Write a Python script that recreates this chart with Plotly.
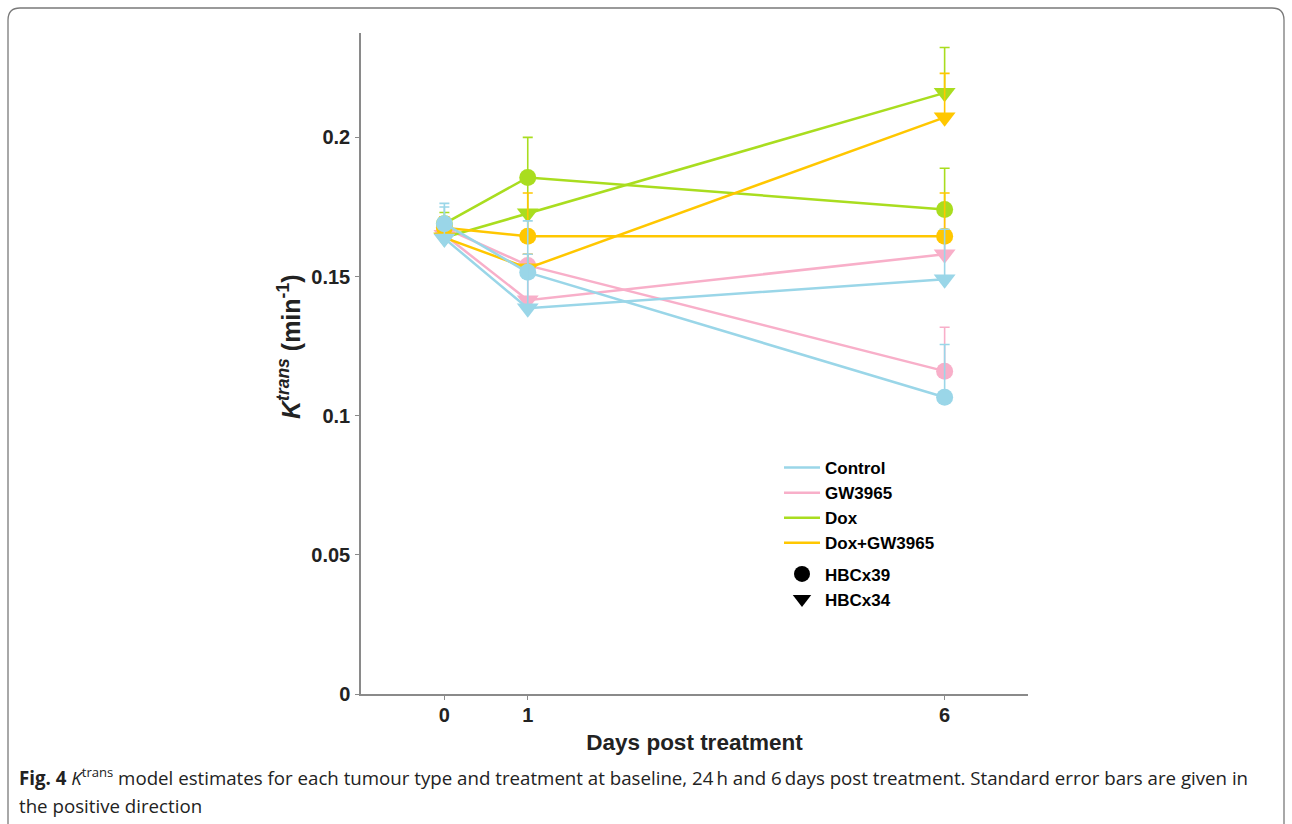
import plotly.graph_objects as go

# ---------------- data ----------------
days = [0, 1, 6]
tick_days = [0, 1, 6]
y_ticks = [0, 0.05, 0.1, 0.15, 0.2]
y_tick_labels = ["0", "0.05", "0.1", "0.15", "0.2"]

treatments = ["Control", "GW3965", "Dox", "Dox+GW3965"]
tumours = ["HBCx39", "HBCx34"]

control_hbcx39 = [0.169, 0.1515, 0.1066]
control_hbcx39_err = [0.0073, 0.0185, 0.019]
control_hbcx34 = [0.1637, 0.1386, 0.149]
control_hbcx34_err = [0.0113, 0.0194, 0.018]

gw_hbcx39 = [0.1675, 0.154, 0.116]
gw_hbcx39_err = [0.004, 0.004, 0.0158]
gw_hbcx34 = [0.165, 0.1415, 0.158]
gw_hbcx34_err = [0.004, 0.010, 0.017]

dox_hbcx39 = [0.169, 0.1856, 0.1741]
dox_hbcx39_err = [0.004, 0.0144, 0.0148]
dox_hbcx34 = [0.164, 0.1727, 0.216]
dox_hbcx34_err = [0.004, 0.013, 0.0163]

doxgw_hbcx39 = [0.1675, 0.1645, 0.1645]
doxgw_hbcx39_err = [0.004, 0.0155, 0.0155]
doxgw_hbcx34 = [0.164, 0.153, 0.2072]
doxgw_hbcx34_err = [0.004, 0.005, 0.0158]

colors = {
    "Control": "#9AD6E8",
    "GW3965": "#F8AFC9",
    "Dox": "#A9DD1F",
    "Dox+GW3965": "#FFC700",
}
symbols = {"HBCx39": "circle", "HBCx34": "triangle-down"}

series = {
    ("GW3965", "HBCx39"): (gw_hbcx39, gw_hbcx39_err),
    ("GW3965", "HBCx34"): (gw_hbcx34, gw_hbcx34_err),
    ("Dox", "HBCx39"): (dox_hbcx39, dox_hbcx39_err),
    ("Dox", "HBCx34"): (dox_hbcx34, dox_hbcx34_err),
    ("Dox+GW3965", "HBCx39"): (doxgw_hbcx39, doxgw_hbcx39_err),
    ("Dox+GW3965", "HBCx34"): (doxgw_hbcx34, doxgw_hbcx34_err),
    ("Control", "HBCx39"): (control_hbcx39, control_hbcx39_err),
    ("Control", "HBCx34"): (control_hbcx34, control_hbcx34_err),
}

# ---------------- layout geometry ----------------
W, H = 1292, 824
L, R, T, B = 361, 1028, 33, 694
PW, PH = R - L, B - T


def px(x):
    return (x - L) / PW


def py(y):
    return (B - y) / PH


fig = go.Figure()

for (trt, tum), (vals, errs) in series.items():
    c = colors[trt]
    fig.add_trace(go.Scatter(
        x=days, y=vals, mode="lines+markers",
        line=dict(color=c, width=2.5),
        marker=dict(symbol=symbols[tum], size=17 if tum == "HBCx39" else 19,
                    color=c, line=dict(width=0)),
        error_y=dict(type="data", symmetric=False, array=errs,
                     arrayminus=[0] * len(errs), color=c, thickness=1.6, width=5),
        showlegend=False,
        name=f"{trt} {tum}",
    ))

# legend entries
for trt in treatments:
    fig.add_trace(go.Scatter(
        x=[None], y=[None], mode="lines",
        line=dict(color=colors[trt], width=2.5),
        name=trt, legendgroup="trt",
    ))
for tum in tumours:
    fig.add_trace(go.Scatter(
        x=[None], y=[None], mode="markers",
        marker=dict(symbol=symbols[tum], size=17, color="black"),
        name=tum, legendgroup="tum",
    ))

font_fam = "Liberation Sans, Arial, sans-serif"

fig.update_layout(
    width=W, height=H,
    margin=dict(l=L, r=W - R, t=T, b=H - B),
    paper_bgcolor="white", plot_bgcolor="white",
    showlegend=True,
    legend=dict(
        x=px(779), y=py(450), xanchor="left", yanchor="top",
        font=dict(family=font_fam, size=17, color="black", weight="bold"),
        tracegroupgap=6, traceorder="grouped",
        bgcolor="rgba(0,0,0,0)", itemwidth=36,
    ),
    xaxis=dict(
        range=[-1, 7], tickvals=tick_days, ticktext=[str(d) for d in tick_days],
        showgrid=False, zeroline=False, showline=True, linecolor="#8a8a8a",
        linewidth=1.5, ticks="outside", ticklen=4, tickcolor="#8a8a8a",
        ticklabelstandoff=-2,
        tickfont=dict(family=font_fam, size=20, color="#222", weight="bold"),
        title=dict(text="Days post treatment", standoff=9,
                   font=dict(family=font_fam, size=22.5, color="#222", weight="bold")),
    ),
    yaxis=dict(
        range=[0, 0.2375], tickvals=y_ticks, ticktext=y_tick_labels,
        showgrid=False, zeroline=False, showline=True, linecolor="#8a8a8a",
        linewidth=1.5, ticks="outside", ticklen=4, tickcolor="#8a8a8a",
        ticklabelstandoff=1,
        tickfont=dict(family=font_fam, size=20, color="#222", weight="bold"),
    ),
)

# y-axis title (placed like the reference, above the axis centre)
fig.add_annotation(
    x=px(289), y=py(347), xref="paper", yref="paper", xanchor="center", yanchor="middle",
    showarrow=False, textangle=-90,
    font=dict(family=font_fam, size=25, color="#222", weight="bold"),
    text="<i>K</i><sup><i>trans</i></sup> (min<sup>-1</sup>)",
)

# figure frame (rounded border)
x0, x1, y0, y1, r = px(8), px(1284), py(8), py(840), 12
rx, ry = r / PW, r / PH
path = (f"M {x0},{y1} L {x0},{y0 - ry} Q {x0},{y0} {x0 + rx},{y0} "
        f"L {x1 - rx},{y0} Q {x1},{y0} {x1},{y0 - ry} L {x1},{y1}")
fig.add_shape(type="path", path=path, xref="paper", yref="paper",
              line=dict(color="#7a7a7a", width=1.3), layer="below")

cap_font = dict(family="Open Sans, sans-serif", size=18.7, color="#222")
fig.add_annotation(
    x=px(17), y=py(777), xref="paper", yref="paper", xanchor="left", yanchor="middle",
    showarrow=False, font=cap_font,
    text=("<b>Fig. 4</b> <i>K</i><sup>trans</sup> model estimates for each tumour type and treatment "
          "at baseline, 24\u2009h and 6\u2009days post treatment. Standard error bars are given in"),
)
fig.add_annotation(
    x=px(17), y=py(806), xref="paper", yref="paper", xanchor="left", yanchor="middle",
    showarrow=False, font=cap_font, text="the positive direction",
)

fig.write_html("out.html", config={"displayModeBar": False},
               post_script="document.body.style.margin='0px';document.body.style.overflow='hidden';")
